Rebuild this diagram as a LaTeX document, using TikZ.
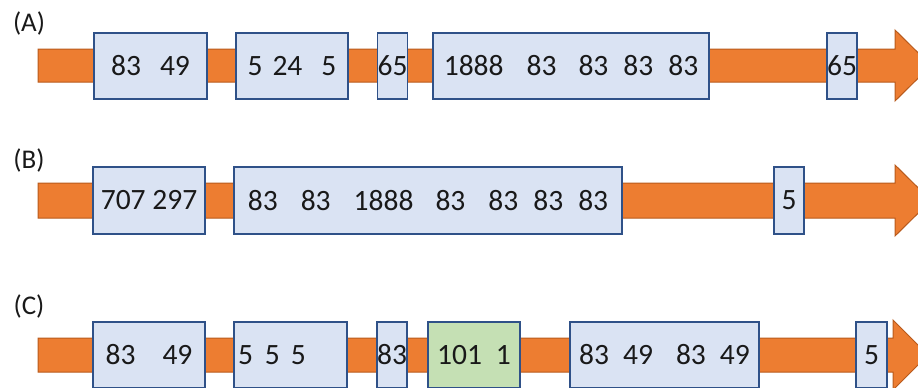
\documentclass[tikz,border=0pt]{standalone}
\usepackage{fontspec}
\setmainfont{Carlito}
\definecolor{arrowfill}{HTML}{ED7D31}
\definecolor{arrowedge}{HTML}{B85A1C}
\definecolor{boxfill}{HTML}{DAE3F3}
\definecolor{boxedge}{HTML}{2F5188}
\definecolor{greenfill}{HTML}{C5E0B4}
\newcommand{\gp}[1]{\hspace{#1pt}}
\begin{document}
\begin{tikzpicture}[x=1pt,y=-1pt,
  bx/.style={draw=boxedge, fill=boxfill, line width=1.8pt, inner sep=0pt,
    font=\fontsize{29.5}{30}\selectfont, text=black!90},
  gbx/.style={bx, fill=greenfill},
  lab/.style={font=\fontsize{27}{28}\selectfont, text=black!90, inner sep=0pt},
  shaft/.style={fill=arrowfill, draw=arrowedge, line width=1pt, line join=miter}]
\useasboundingbox (0,0) rectangle (918,388);
\clip (0,0) rectangle (918,388);
% ---------- arrows ----------
\path[shaft] (38,49) -- (895,49) -- (895,30) -- (931,65.5) -- (895,101) -- (895,82) -- (38,82) -- cycle;
\path[shaft] (38,183) -- (895,183) -- (895,165) -- (931,200.5) -- (895,236) -- (895,218) -- (38,218) -- cycle;
\path[shaft] (38,338) -- (893,338) -- (893,320) -- (928,355) -- (893,390) -- (893,372) -- (38,372) -- cycle;
% ---------- labels ----------
\node[lab] (la) at (29,23) {(A)};
\node[lab] (lb) at (29,160) {(B)};
\node[lab] (lc) at (29,306) {(C)};
% ---------- row A ----------
\node[bx, minimum width=113, minimum height=66] (a1) at (150.5,66) {83\gp{19}49};
\node[bx, minimum width=112, minimum height=66] (a2) at (292,66) {5\gp{10}24\gp{19}5};
\node[bx, minimum width=29, minimum height=66] (a3) at (392.5,66) {65};
\node[bx, minimum width=276, minimum height=66] (a4) at (571,66) {1888\gp{23}83\gp{22}83\gp{15}83\gp{15}83};
\node[bx, minimum width=30, minimum height=66] (a5) at (842,66) {65};
% ---------- row B ----------
\node[bx, minimum width=112, minimum height=67] (b1) at (149,200.5) {707 297};
\node[bx, minimum width=388, minimum height=67] (b2) at (428,200.5) {83\gp{23}83\gp{23}1888\gp{22}83\gp{23}83\gp{15}83\gp{15}83};
\node[bx, minimum width=30, minimum height=67] (b3) at (789,200.5) {5};
% ---------- row C ----------
\node[bx, minimum width=112, minimum height=66] (c1) at (149,355) {83\gp{27}49};
\node[bx, minimum width=113, minimum height=66, text width=105, inner xsep=4pt, align=left] (c2) at (290.5,355) {5\gp{12}5\gp{11}5};
\node[bx, minimum width=30, minimum height=66] (c3) at (392,355) {83};
\node[gbx, minimum width=92, minimum height=66] (c4) at (474,355) {101\gp{14}1};
\node[bx, minimum width=189, minimum height=66] (c5) at (664.5,355) {83\gp{14}49\gp{23}83\gp{14}49};
\node[bx, minimum width=31, minimum height=66] (c6) at (871.5,355) {5};
\end{tikzpicture}
\end{document}
